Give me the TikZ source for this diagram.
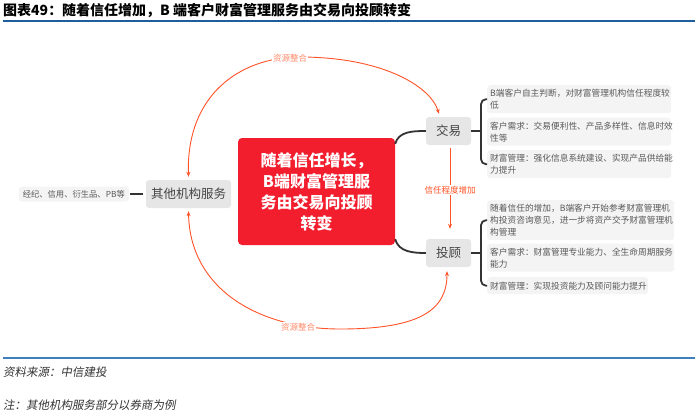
\documentclass[tikz,border=0pt]{standalone}
\usepackage{fontspec}
\setmainfont{Noto Sans CJK SC}
\newfontfamily\slantcjk[FakeSlant=0.18]{Noto Sans CJK SC}
\usetikzlibrary{arrows.meta}
\definecolor{TrustRed}{HTML}{F21E2E}
\definecolor{FlowOrange}{HTML}{FF5226}
\definecolor{FlowLabel}{HTML}{FF8A6A}
\definecolor{TopicGray}{HTML}{E6E6E6}
\definecolor{ItemGray}{HTML}{F4F4F4}
\definecolor{InkGray}{HTML}{444444}
\definecolor{RuleBlue}{HTML}{1F5E9C}
\definecolor{FootBlue}{HTML}{3E7FBF}

\begin{document}
\begin{tikzpicture}[x=1pt,y=-1pt,
  topic/.style={fill=TopicGray, rounded corners=3pt, text=InkGray, font=\fontsize{12.5}{14}\selectfont, minimum height=28pt, inner sep=0pt},
  item/.style={fill=ItemGray, rounded corners=3pt, text=black!65, font=\fontsize{8.7}{12}\selectfont, align=left, anchor=north west, inner xsep=3pt, inner ysep=0pt, minimum height=28pt},
  branch/.style={draw=black!80, line width=1.8pt},
  flow/.style={draw=FlowOrange, line width=0.9pt, {Stealth[length=5pt,width=4pt]}-{Stealth[length=5pt,width=4pt]}},
  flowlabel/.style={fill=white, inner sep=1pt, text=FlowLabel, font=\fontsize{8.5}{10}\selectfont}
]
\useasboundingbox (0,0) rectangle (700,416);

\node[anchor=west, inner sep=0pt, font=\fontsize{14}{15}\selectfont\bfseries] (ttag) at (3,10) {图表49：};
\node[anchor=west, inner sep=0pt, font=\fontsize{14}{15}\selectfont\bfseries] (ttl) at (62,10) {随着信任增加，B 端客户财富管理服务由交易向投顾转变};
\draw[RuleBlue, line width=2pt] (3,21) -- (695,21);

\node[fill=TrustRed, rounded corners=4pt, minimum width=157pt, minimum height=107pt, text=white, align=center, font=\fontsize{16}{21}\selectfont\bfseries] (core) at (316.5,191.5) {随着信任增长，\\B端财富管理服\\务由交易向投顾\\转变};

\node[topic, minimum width=45pt] (jy) at (448.5,131) {交易};
\node[topic, minimum width=45pt] (tg) at (448.5,253) {投顾};
\node[topic, minimum width=85pt] (qt) at (188.5,194) {其他机构服务};
\node[item, anchor=east, minimum height=15pt, inner xsep=4pt, font=\fontsize{8.3}{10}\selectfont] (qtl) at (129,194) {经纪、信用、衍生品、PB等};

\node[item, text width=178pt] (jy1) at (487,85) {B端客户自主判断，对财富管理机构信任程度较\\低};
\node[item, text width=178pt] (jy2) at (487,117.5) {客户需求：交易便利性、产品多样性、信息时效\\性等};
\node[item, text width=178pt] (jy3) at (487,150) {财富管理：强化信息系统建设、实现产品供给能\\力提升};

\node[item, text width=181pt, minimum height=40pt] (tg1) at (487,200) {随着信任的增加，B端客户开始参考财富管理机\\构投资咨询意见，进一步将资产交予财富管理机\\构管理};
\node[item, text width=181pt] (tg2) at (487,243.5) {客户需求：财富管理专业能力、全生命周期服务\\能力};
\node[item, text width=155pt, minimum height=17pt] (tg3) at (487,277) {财富管理：实现投资能力及顾问能力提升};

\draw[branch] ([yshift=-6pt]core.north east) to[out=75,in=180] (jy.west);
\draw[branch] ([yshift=6pt]core.south east) to[out=-75,in=180] (tg.west);
\draw[branch, shorten <=1pt, shorten >=3pt] (qtl) -- (qt);

\draw[branch] (jy.east) -- ++(10,0);
\draw[branch, rounded corners=5pt] (jy1.west) -- ++(-6,0) |- (jy3.west);
\draw[branch] (tg.east) -- ++(10,0);
\draw[branch, rounded corners=5pt] (tg1.west) -- ++(-6,0) |- (tg3.west);

\draw[flow] ([yshift=3pt]qt.north) .. controls (186,95) and (240,57) .. (300,57) .. controls (380,57) and (430,85) .. ([xshift=-9.5pt,yshift=3pt]jy.north);
\draw[flow] ([yshift=-3pt]qt.south) .. controls (190,290) and (260,329) .. (340,329) .. controls (420,329) and (447,310) .. ([xshift=-1.5pt,yshift=-4pt]tg.south);
\node[flowlabel] (res1) at (290,58) {资源整合};
\node[flowlabel] (res2) at (298,327) {资源整合};

\draw[FlowOrange, line width=0.9pt, -{Stealth[length=5pt,width=4pt]}] ([xshift=1.5pt,yshift=-3pt]jy.south) -- ([xshift=1.5pt,yshift=10pt]tg.north);
\node[flowlabel, text=FlowOrange] (trust) at (450,190) {信任程度增加};

\draw[FootBlue, line width=1.5pt] (3,358) -- (695,358);
\node[anchor=west, inner sep=0pt, text=black!80, font=\slantcjk\fontsize{11.5}{13}\selectfont] (src) at (3,372) {资料来源：中信建投};
\node[anchor=west, inner sep=0pt, text=black!80, font=\slantcjk\fontsize{11.5}{13}\selectfont] (note) at (3,405) {注：其他机构服务部分以券商为例};
\end{tikzpicture}
\end{document}
